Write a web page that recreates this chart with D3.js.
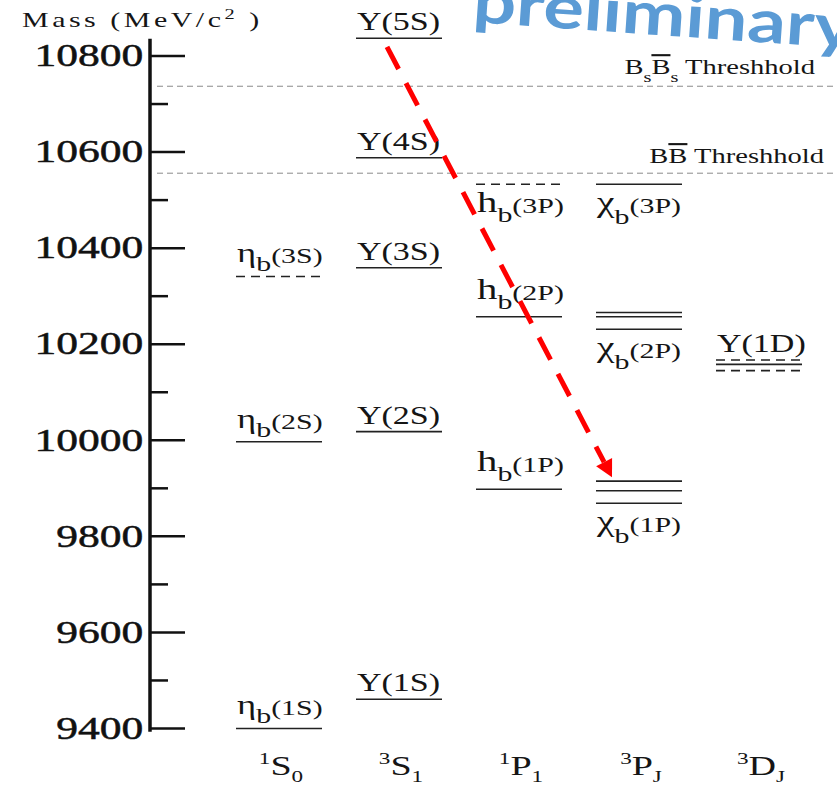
<!DOCTYPE html>
<html>
<head>
<meta charset="utf-8">
<script src="https://cdn.jsdelivr.net/npm/d3@7"></script>
<style>
  body { margin: 0; background: #fff; }
  text { font-family: "Liberation Serif", "Times New Roman", serif; fill: #151515; }
</style>
</head>
<body>
<script>
// spectroscopic columns along the bottom
const columns = ["1S0", "3S1", "1P1", "3PJ", "3DJ"];
const columnLabels = [
  ["1", "S", "0"], ["3", "S", "1"], ["1", "P", "1"], ["3", "P", "J"], ["3", "D", "J"]
];

const majorTicks = [9400, 9600, 9800, 10000, 10200, 10400, 10600, 10800];
const minorTicks = [9500, 9700, 9900, 10100, 10300, 10500, 10700];

// [column, mass (MeV), observed]
const levels = [
  ["1S0", 9399, true], ["1S0", 9996, true], ["1S0", 10340, false],
  ["3S1", 9460, true], ["3S1", 10017, true], ["3S1", 10358, true], ["3S1", 10587, true], ["3S1", 10836, true],
  ["1P1", 9897, true], ["1P1", 10256, true], ["1P1", 10532, false],
  ["3PJ", 9914, true], ["3PJ", 9894, true], ["3PJ", 9868, true],
  ["3PJ", 10265, true], ["3PJ", 10256, true], ["3PJ", 10230, true],
  ["3PJ", 10532, true],
  ["3DJ", 10166, false], ["3DJ", 10157, true], ["3DJ", 10144, false]
];

// [column, symbol, subscript, state, mass of the line it names]
const labels = [
  ["1S0", "η", "b", "(1S)", 9399], ["1S0", "η", "b", "(2S)", 9996], ["1S0", "η", "b", "(3S)", 10340],
  ["3S1", "Υ", "", "(1S)", 9460], ["3S1", "Υ", "", "(2S)", 10017], ["3S1", "Υ", "", "(3S)", 10358],
  ["3S1", "Υ", "", "(4S)", 10587], ["3S1", "Υ", "", "(5S)", 10836],
  ["1P1", "h", "b", "(1P)", 9897], ["1P1", "h", "b", "(2P)", 10256], ["1P1", "h", "b", "(3P)", 10532],
  ["3PJ", "χ", "b", "(1P)", 9868], ["3PJ", "χ", "b", "(2P)", 10230], ["3PJ", "χ", "b", "(3P)", 10532],
  ["3DJ", "Υ", "", "(1D)", 10166]
];

const thresholds = [
  { name: "BsBs", mass: 10736 },
  { name: "BB", mass: 10555 }
];

// arrow from Y(5S) down to chi_b(1P): [column index, mass]
const arrowFrom = [0.9, 10818];
const arrowTo = [2.775, 9922];

const width = 837, height = 786;
const sx = 1.36;   // the slide text is stretched sideways

const svg = d3.select("body").append("svg")
  .attr("width", width)
  .attr("height", height);

const y = d3.scaleLinear().domain([9400, 10800]).range([728, 55.5]);
const x = d3.scalePoint().domain(columns).range([279, 759]);
const xi = d3.scaleLinear().domain([0, columns.length - 1]).range([279, 759]);
const halfW = 43;

let stretched = function(px, py) {
  return svg.append("g").attr("transform", `translate(${px},${py}) scale(${sx},1)`);
};

// preliminary watermark (runs off the top of the slide)
svg.append("text")
   .attr("transform", "translate(472,22) rotate(4)")
   .style("font-family", "Lato, 'Open Sans', sans-serif")
   .attr("font-weight", "bold")
   .attr("font-size", 60)
   .style("fill", "#5b9bd5")
   .attr("textLength", 382)
   .attr("lengthAdjust", "spacingAndGlyphs")
   .text("preliminary");

// threshold lines
svg.selectAll(".thr")
   .data(thresholds)
   .enter().append("line")
   .attr("x1", 157).attr("x2", 835)
   .attr("y1", d => y(d.mass)).attr("y2", d => y(d.mass))
   .attr("stroke", "#8a8a8a")
   .attr("stroke-width", 1)
   .attr("stroke-dasharray", "6,4");

{
  let t = stretched(815, y(10736) - 12).append("text")
    .attr("text-anchor", "end").attr("font-size", 21);
  t.append("tspan").text("B");
  t.append("tspan").attr("font-size", 15).attr("dy", 8).text("s");
  t.append("tspan").attr("dy", -8).style("text-decoration", "overline").text("B");
  t.append("tspan").attr("font-size", 15).attr("dy", 8).text("s");
  t.append("tspan").attr("dy", -8).text(" Threshhold");

  let t2 = stretched(824, y(10555) - 10).append("text")
    .attr("text-anchor", "end").attr("font-size", 21);
  t2.append("tspan").text("B");
  t2.append("tspan").style("text-decoration", "overline").text("B");
  t2.append("tspan").text(" Threshhold");
}

// y axis
svg.append("line")
   .attr("x1", 150).attr("x2", 150)
   .attr("y1", y(10835)).attr("y2", y(9392))
   .attr("stroke", "#111")
   .attr("stroke-width", 3.5);

let gMajor = svg.append("g")
  .attr("transform", "translate(150,0)")
  .call(d3.axisLeft(y).tickValues(majorTicks).tickSizeInner(-35).tickSizeOuter(0)
          .tickPadding(5).tickFormat(d3.format("d")));
gMajor.select(".domain").remove();
gMajor.attr("font-family", null).attr("font-size", null);
gMajor.selectAll(".tick line").attr("stroke", "#111").attr("stroke-width", 2.5);
gMajor.selectAll(".tick text")
      .attr("font-size", 32)
      .attr("transform", `scale(${sx},1)`)
      .attr("stroke", "#111")
      .attr("stroke-width", 0.5)
      .style("fill", "#111");

let gMinor = svg.append("g")
  .attr("transform", "translate(150,0)")
  .call(d3.axisLeft(y).tickValues(minorTicks).tickSizeInner(-18).tickSizeOuter(0).tickFormat(""));
gMinor.select(".domain").remove();
gMinor.selectAll(".tick line").attr("stroke", "#111").attr("stroke-width", 2.5);

stretched(22, 27).append("text")
  .attr("font-size", 22)
  .attr("letter-spacing", 2.6)
  .call(t => {
    t.append("tspan").text("Mass (MeV/c");
    t.append("tspan").attr("font-size", 15).attr("dy", -8).text("2");
    t.append("tspan").attr("dy", 8).text(" )");
  });

// energy levels
svg.selectAll(".lvl")
   .data(levels)
   .enter().append("line")
   .attr("x1", d => x(d[0]) - halfW)
   .attr("x2", d => x(d[0]) + halfW)
   .attr("y1", d => y(d[1]))
   .attr("y2", d => y(d[1]))
   .attr("stroke", "#222")
   .attr("stroke-width", 1.6)
   .attr("stroke-dasharray", d => d[2] ? null : "9,6");

// state labels
const below = new Set(["h(3P)", "χ(3P)", "χ(2P)", "χ(1P)"]);
const symSize = { "η": 27, "Υ": 25, "h": 30, "χ": 29 };
const subDrop = { "η": 9, "h": 10, "χ": 12 };

labels.forEach(function(l) {
  let key = l[1] + l[3];
  let off;
  if (below.has(key)) off = 28;
  else if (l[2] == "") off = -8;
  else if (l[1] == "η") off = -14;
  else off = -18;

  let t = stretched(x(l[0]) - halfW + 1, y(l[4]) + off).append("text");
  t.append("tspan").attr("font-size", symSize[l[1]]).text(l[1]);
  if (l[2] != "") {
    t.append("tspan").attr("font-size", 22).attr("dy", subDrop[l[1]]).text(l[2]);
    t.append("tspan").attr("font-size", 22).attr("dy", -subDrop[l[1]] + 1).text(l[3]);
  } else {
    t.append("tspan").attr("font-size", 25).text(l[3]);
  }
});

// column labels
columnLabels.forEach(function(c, i) {
  let t = stretched(x(columns[i]) + 2, 775).append("text")
    .attr("text-anchor", "middle");
  t.append("tspan").attr("font-size", 17).attr("dy", -11).text(c[0]);
  t.append("tspan").attr("font-size", 28).attr("dy", 11).text(c[1]);
  t.append("tspan").attr("font-size", 17).attr("dy", 7).text(c[2]);
});

// red dashed arrow
{
  let x0 = xi(arrowFrom[0]), y0 = y(arrowFrom[1]);
  let x1 = xi(arrowTo[0]), y1 = y(arrowTo[1]);
  let len = Math.hypot(x1 - x0, y1 - y0);
  let ux = (x1 - x0) / len, uy = (y1 - y0) / len;
  let headL = 17, headW = 9;
  let bx = x1 - ux * headL, by = y1 - uy * headL;

  svg.append("line")
     .attr("x1", x0).attr("y1", y0)
     .attr("x2", bx).attr("y2", by)
     .attr("stroke", "#ff0000")
     .attr("stroke-width", 5)
     .attr("stroke-dasharray", "25,16");

  svg.append("polygon")
     .attr("points", [[x1, y1], [bx - uy * headW, by + ux * headW], [bx + uy * headW, by - ux * headW]]
       .map(p => p.join(",")).join(" "))
     .attr("fill", "#ff0000");
}
</script>
</body>
</html>
